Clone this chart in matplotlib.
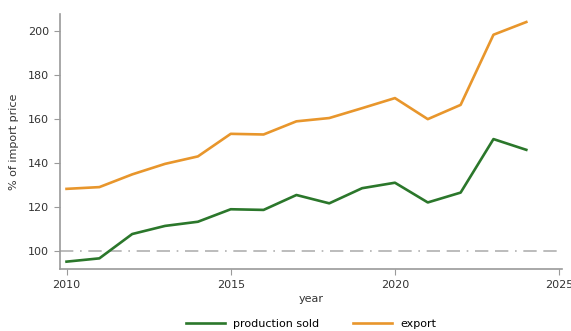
import matplotlib
matplotlib.use('Agg')
import matplotlib.pyplot as plt

years = list(range(2010, 2025))
production_sold = [95, 96.5, 107.6, 111.3, 113.2, 118.9, 118.6, 125.4, 121.6, 128.5, 131, 122, 126.5, 150.9, 146]
export = [128.2, 129, 134.8, 139.6, 143, 153.3, 153, 159, 160.5, 165, 169.6, 160, 166.5, 198.5, 204.3]
xticks = [2010, 2015, 2020, 2025]
yticks = [100, 120, 140, 160, 180, 200]

green = '#2b772b'
orange = '#e8962c'
grey = '#9a9a9a'

fig = plt.figure(figsize=(5.71, 3.31), dpi=100)
ax = fig.add_axes([0.105, 0.187, 0.88, 0.771])

ax.axhline(100, color='#b0b0b0', lw=1.2, dashes=(8, 4, 1, 4, 8, 4))
ax.plot(years, production_sold, color=green, lw=1.9, label='production sold')
ax.plot(years, export, color=orange, lw=1.9, label='export')

ax.set_xlim(2009.8, 2025.1)
ax.set_ylim(91.6, 208)
ax.set_xticks(xticks)
ax.set_yticks(yticks)
ax.set_xlabel('year', fontsize=8, color='#333333', labelpad=3)
ax.set_ylabel('% of import price', fontsize=8, color='#333333', labelpad=6)
ax.tick_params(labelsize=8, colors='#333333', length=4, color=grey, pad=4)

for s in ['top', 'right']:
    ax.spines[s].set_visible(False)
for s in ['left', 'bottom']:
    ax.spines[s].set_color(grey)
    ax.spines[s].set_linewidth(1.2)

fig.legend(loc='lower center', bbox_to_anchor=(0.545, -0.025), ncol=2, frameon=False,
           fontsize=8, handlelength=3.5, columnspacing=3)

fig.savefig('out.png', dpi=100)
